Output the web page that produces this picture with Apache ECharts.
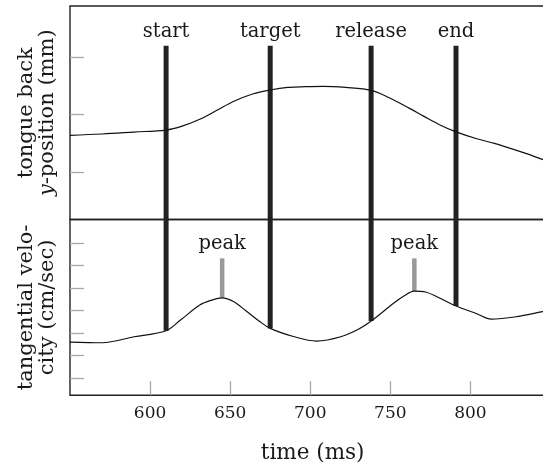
<!DOCTYPE html>
<html>
<head>
<meta charset="utf-8">
<script src="https://cdn.jsdelivr.net/npm/echarts@6/dist/echarts.min.js"></script>
<style>
html,body{margin:0;padding:0;background:#fff;}
#chart{width:543px;height:466px;}
</style>
</head>
<body>
<div id="chart"></div>
<script>
// ---- data ----
const posTime = [550, 570, 590, 610, 620, 631, 642, 652, 664, 675, 686, 697, 708, 722, 738, 749, 762, 771, 781, 791, 804, 815, 825, 835, 845, 853];
const posValue = [1.64, 1.663, 1.697, 1.732, 1.80, 1.92, 2.08, 2.23, 2.36, 2.43, 2.475, 2.488, 2.494, 2.475, 2.425, 2.30, 2.11, 1.97, 1.82, 1.70, 1.58, 1.50, 1.413, 1.32, 1.221, 1.15];

const velTime = [550, 570, 590, 610, 619, 631, 638, 645, 652, 660, 668, 675, 690, 704, 719, 731, 738, 752, 758, 765, 772, 780, 791, 804, 813, 829, 845, 853];
const velValue = [2.606, 2.575, 2.84, 3.106, 3.58, 4.24, 4.45, 4.56, 4.40, 3.98, 3.54, 3.21, 2.84, 2.65, 2.84, 3.21, 3.535, 4.32, 4.62, 4.86, 4.82, 4.58, 4.2, 3.86, 3.62, 3.73, 3.95, 4.05];

const eventNames = ['start', 'target', 'release', 'end'];
const eventTimes = [610, 675, 738, 791];
const peakNames = ['peak', 'peak'];
const peakTimes = [645, 765];

const xTicks = [600, 650, 700, 750, 800];
const posTicks = [1, 2, 3];
const velTicks = [1, 2, 3, 4, 5, 6, 7];

// ---- helpers ----
function velAt(t) {
  for (let i = 0; i < velTime.length - 1; i++) {
    if (t >= velTime[i] && t <= velTime[i + 1]) {
      const f = (t - velTime[i]) / (velTime[i + 1] - velTime[i]);
      return velValue[i] + f * (velValue[i + 1] - velValue[i]);
    }
  }
  return velValue[velValue.length - 1];
}

const FONT = 'DejaVu Serif';
const TXT = '#1a1a1a';
const X_MIN = 550, X_MAX = 853;
const POS_MIN = 0.172, POS_MAX = 3.895;
const VEL_MIN = 0.248, VEL_MAX = 8.03;
const EVENT_TOP = 3.2;
const PEAK_TOP = 6.31;
const PLOT_W = 485.3;

const chart = echarts.init(document.getElementById('chart'), null, {renderer: 'canvas'});

const tickStyle = {show: true, inside: true, length: 14, lineStyle: {color: '#a8a8a8', width: 1.3}};

function barRender(color, width, withLabel) {
  return function (params, api) {
    const t = api.value(0);
    const top = api.coord([t, api.value(1)]);
    const bot = api.coord([t, api.value(2)]);
    const children = [{
      type: 'rect',
      shape: {x: top[0] - width / 2, y: top[1], width: width, height: bot[1] - top[1]},
      style: {fill: color}
    }];
    if (withLabel) {
      children.push({
        type: 'text',
        x: top[0], y: top[1] - 14,
        style: {text: withLabel[params.dataIndex], fill: TXT, font: '19.5px "' + FONT + '"', align: 'center', verticalAlign: 'middle'}
      });
    }
    return {type: 'group', children: children};
  };
}

const gridBase = {left: 70, width: PLOT_W, show: true, borderColor: '#222', borderWidth: 1.4, backgroundColor: 'transparent', containLabel: false, outerBoundsMode: 'none'};

const option = {
  animation: false,
  backgroundColor: '#fff',
  grid: [
    Object.assign({top: 6, height: 213.5}, gridBase),
    Object.assign({top: 219.5, height: 175.8}, gridBase)
  ],
  xAxis: [
    {gridIndex: 0, type: 'value', min: X_MIN, max: X_MAX, axisLine: {show: false}, axisTick: {show: false}, axisLabel: {show: false}, splitLine: {show: false}},
    {gridIndex: 1, type: 'value', min: X_MIN, max: X_MAX, interval: 50,
      axisLine: {show: false},
      axisTick: Object.assign({customValues: xTicks}, tickStyle),
      axisLabel: {customValues: xTicks, margin: 10, fontFamily: FONT, fontSize: 17, color: TXT},
      splitLine: {show: false},
      name: 'time (ms)', nameLocation: 'middle', nameGap: 47,
      nameTextStyle: {fontFamily: FONT, fontSize: 21.5, color: TXT}
    }
  ],
  yAxis: [
    {gridIndex: 0, type: 'value', min: POS_MIN, max: POS_MAX,
      axisLine: {show: false},
      axisTick: Object.assign({customValues: posTicks}, tickStyle),
      axisLabel: {show: false, customValues: posTicks},
      splitLine: {show: false},
      name: 'tongue back\n{i|y}-position (mm)', nameLocation: 'middle', nameRotate: 90, nameGap: 12,
      nameTextStyle: {fontFamily: FONT, fontSize: 21, lineHeight: 21, color: TXT, align: 'center',
        rich: {i: {fontFamily: FONT, fontSize: 21, fontStyle: 'italic', color: TXT}}}
    },
    {gridIndex: 1, type: 'value', min: VEL_MIN, max: VEL_MAX,
      axisLine: {show: false},
      axisTick: Object.assign({customValues: velTicks}, tickStyle),
      axisLabel: {show: false, customValues: velTicks},
      splitLine: {show: false},
      name: 'tangential velo-\ncity (cm/sec)', nameLocation: 'middle', nameRotate: 90, nameGap: 12,
      nameTextStyle: {fontFamily: FONT, fontSize: 21, lineHeight: 21, color: TXT, align: 'center'}
    }
  ],
  series: [
    {
      type: 'custom', xAxisIndex: 0, yAxisIndex: 0, z: 2, clip: false,
      renderItem: barRender('#222', 5, eventNames),
      data: eventTimes.map(t => [t, EVENT_TOP, POS_MIN])
    },
    {
      type: 'custom', xAxisIndex: 1, yAxisIndex: 1, z: 2, clip: false,
      renderItem: barRender('#222', 5, null),
      data: eventTimes.map(t => [t, VEL_MAX, velAt(t)])
    },
    {
      type: 'custom', xAxisIndex: 1, yAxisIndex: 1, z: 2, clip: false,
      renderItem: barRender('#999', 4.5, peakNames),
      data: peakTimes.map(t => [t, PEAK_TOP, velAt(t)])
    },
    {
      type: 'line', xAxisIndex: 0, yAxisIndex: 0, z: 3,
      data: posTime.map((t, i) => [t, posValue[i]]),
      showSymbol: false, smooth: 0.35,
      lineStyle: {color: '#111', width: 1.2}
    },
    {
      type: 'line', xAxisIndex: 1, yAxisIndex: 1, z: 3,
      data: velTime.map((t, i) => [t, velValue[i]]),
      showSymbol: false, smooth: 0.35,
      lineStyle: {color: '#111', width: 1.2}
    }
  ]
};
chart.setOption(option);
</script>
</body>
</html>
